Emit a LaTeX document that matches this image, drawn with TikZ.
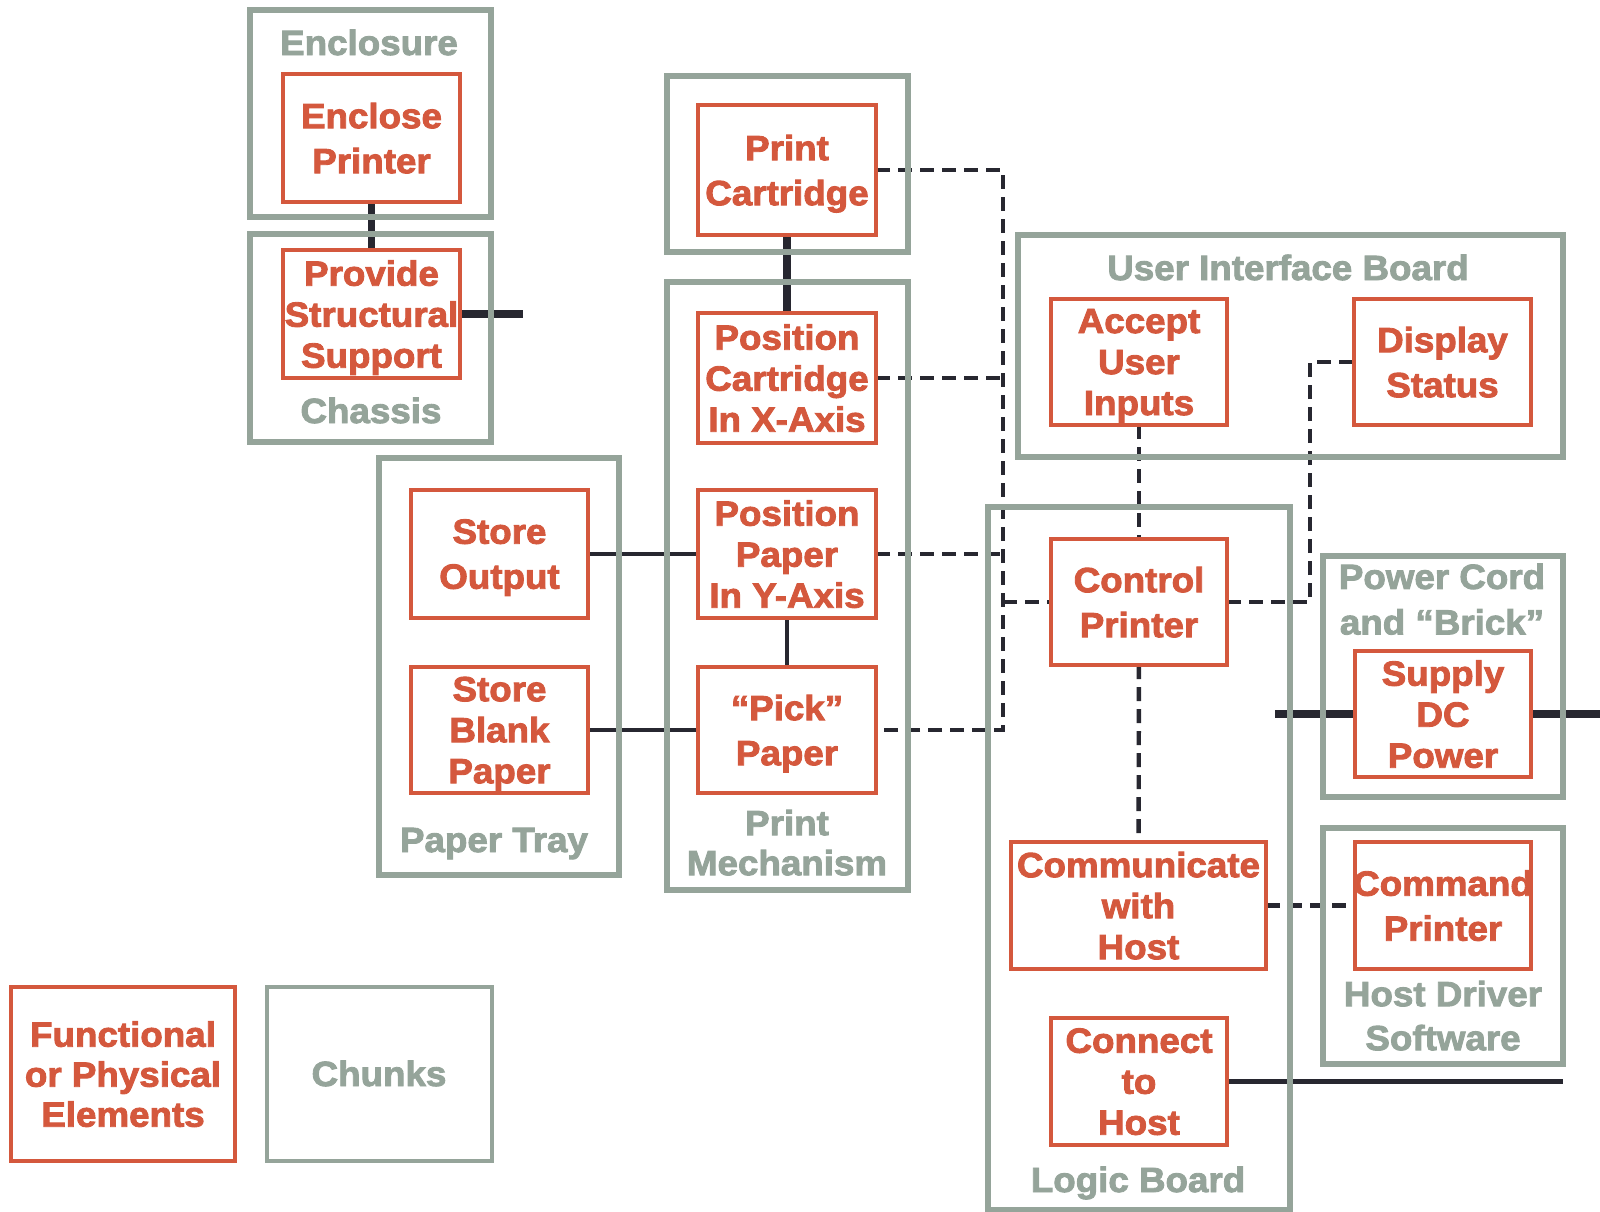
\documentclass[tikz,border=0pt]{standalone}
\usepackage{fontspec}
\setmainfont{Liberation Sans}[FakeStretch=1.05, BoldFeatures={FakeBold=2.5}]
\usetikzlibrary{fit,backgrounds}
\definecolor{fred}{HTML}{D4583D}
\definecolor{cgray}{HTML}{95A49A}
\definecolor{wire}{HTML}{272730}

\begin{document}
\begin{tikzpicture}[x=0.5pt,y=-0.5pt,
  fbox/.style={draw=fred, line width=2pt, inner sep=0pt, outer sep=0pt},
  chunk/.style={draw=cgray, line width=3pt, inner sep=0pt, outer sep=0pt},
  ftext/.style={text=fred, font=\bfseries\fontsize{17.5}{22.5}\selectfont, align=center, inner sep=0pt, text depth=0pt},
  ftextiii/.style={ftext, font=\bfseries\fontsize{17.5}{20.5}\selectfont},
  ctext/.style={text=cgray, font=\bfseries\fontsize{17.5}{22}\selectfont, align=center, inner sep=0pt, text depth=0pt},
  heavy/.style={draw=wire, line width=3.75pt},
  link/.style={draw=wire, line width=2.25pt},
  signal/.style={draw=wire, line width=2.2pt, dash pattern=on 7pt off 4pt},
]
\useasboundingbox (0,0) rectangle (1600,1211);

% ---- chunks (grey frames) ----
\node[chunk, fit={(250,10) (491,217)}]   (encF)   {};
\node[chunk, fit={(250,234) (491,442)}]  (chaF)   {};
\node[chunk, fit={(667,76) (908,252)}]   (cartF)  {};
\node[chunk, fit={(667,282) (908,890)}]  (mechF)  {};
\node[chunk, fit={(379,458) (619,875)}]  (trayF)  {};
\node[chunk, fit={(1018,235) (1563,457)}] (uiF)   {};
\node[chunk, fit={(988,507) (1290,1210)}] (logicF) {};
\node[chunk, fit={(1323,556) (1563,797)}] (powerF) {};
\node[chunk, fit={(1323,828) (1563,1064)}] (hostF) {};

\node[ctext, anchor=base] (encL)   at (369,55)   {Enclosure};
\node[ctext, anchor=base] (chaL)   at (371,423)  {Chassis};
\node[ctext, anchor=base] (trayL)  at (494,852)  {Paper Tray};
\node[ctext, font=\bfseries\fontsize{17.5}{20}\selectfont] (mechL) at (787,842.5) {Print\\Mechanism};
\node[ctext, anchor=base] (uiL)    at (1288,280) {User Interface Board};
\node[ctext, anchor=base] (logicL) at (1138,1192) {Logic Board};
\node[ctext, font=\bfseries\fontsize{17.5}{22.75}\selectfont] (powerL) at (1442,599) {Power Cord\\and “Brick”};
\node[ctext] (hostL) at (1443,1015.5) {Host Driver\\Software};

% ---- functional / physical elements ----
\node[fbox, fit={(283,74) (460,202)}]    (enc)    {};
\node[fbox, fit={(283,250) (460,378)}]   (sup)    {};
\node[fbox, fit={(698,105) (876,235)}]   (cart)   {};
\node[fbox, fit={(698,313) (876,443)}]   (posx)   {};
\node[fbox, fit={(698,490) (876,618)}]   (posy)   {};
\node[fbox, fit={(698,667) (876,793)}]   (pick)   {};
\node[fbox, fit={(411,490) (588,618)}]   (sout)   {};
\node[fbox, fit={(411,667) (588,793)}]   (sblank) {};
\node[fbox, fit={(1051,299) (1227,425)}] (accept) {};
\node[fbox, fit={(1354,299) (1531,425)}] (disp)   {};
\node[fbox, fit={(1051,539) (1227,665)}] (ctrl)   {};
\node[fbox, fit={(1011,842) (1266,969)}] (comm)   {};
\node[fbox, fit={(1051,1018) (1227,1145)}] (conn) {};
\node[fbox, fit={(1355,651) (1531,777)}] (supply) {};
\node[fbox, fit={(1355,842) (1531,969)}] (cmd)    {};

\node[ftext]    (encT)    at (enc)    {Enclose\\Printer};
\node[ftextiii] (supT)    at (sup)    {Provide\\Structural\\Support};
\node[ftext]    (cartT)   at (cart)   {Print\\Cartridge};
\node[ftextiii] (posxT)   at (posx)   {Position\\Cartridge\\In X-Axis};
\node[ftextiii] (posyT)   at (posy)   {Position\\Paper\\In Y-Axis};
\node[ftext]    (pickT)   at (pick)   {“Pick”\\Paper};
\node[ftext]    (soutT)   at (sout)   {Store\\Output};
\node[ftextiii] (sblankT) at (sblank) {Store\\Blank\\Paper};
\node[ftextiii] (acceptT) at (accept) {Accept\\User\\Inputs};
\node[ftext]    (dispT)   at (disp)   {Display\\Status};
\node[ftext]    (ctrlT)   at (ctrl)   {Control\\Printer};
\node[ftextiii] (commT)   at (comm)   {Communicate\\with\\Host};
\node[ftextiii] (connT)   at (conn)   {Connect\\to\\Host};
\node[ftextiii] (supplyT) at (supply) {Supply\\DC\\Power};
\node[ftext]    (cmdT)    at (cmd)    {Command\\Printer};

% ---- key ----
\node[fbox, fit={(11,987) (235,1161)}] (keyF) {};
\node[ftext, font=\bfseries\fontsize{17.5}{20}\selectfont] (keyFT) at (keyF) {Functional\\or Physical\\Elements};
\node[chunk, line width=2.25pt, fit={(267,987) (492,1161)}] (keyC) {};
\node[ctext, anchor=base] (keyCT) at (379,1086) {Chunks};

% ---- free ends and bus lines ----
\coordinate (supEnd)  at (523,314);
\coordinate (pwrIn)   at (1275,714);
\coordinate (pwrOut)  at (1600,714);
\coordinate (hostEnd) at (1563,1081.5);
\coordinate (bus)     at (1003,0);
\coordinate (tap)     at (1310,0);

% ---- interactions ----
\begin{scope}[on background layer]
  \draw[heavy] (enc) -- (sup);
  \draw[heavy] (sup.east) -- (supEnd);
  \draw[heavy] (cart) -- (posx);
  \draw[heavy] (pwrIn) -- (supply.west);
  \draw[heavy] (supply.east) -- (pwrOut);

  \draw[link] (sout) -- (posy);
  \draw[link] (sblank) -- (pick);
  \draw[link] (posy) -- (pick);
  \draw[link] (conn.east) -- (hostEnd);

  \draw[signal] (cart.east) -- (cart.east -| bus) -- (pick.east -| bus) -- (pick.east);
  \draw[signal] (posx.east) -- (posx.east -| bus);
  \draw[signal] (posy.east) -- (posy.east -| bus);
  \draw[signal] (ctrl.west -| bus) -- (ctrl.west);
  \draw[signal] (accept) -- (ctrl);
  \draw[signal] (ctrl) -- (comm);
  \draw[signal] (ctrl.east) -- (ctrl.east -| tap) -- (disp.west -| tap) -- (disp.west);
  \draw[signal] (comm.east) -- (cmd.west);
\end{scope}
\end{tikzpicture}
\end{document}
